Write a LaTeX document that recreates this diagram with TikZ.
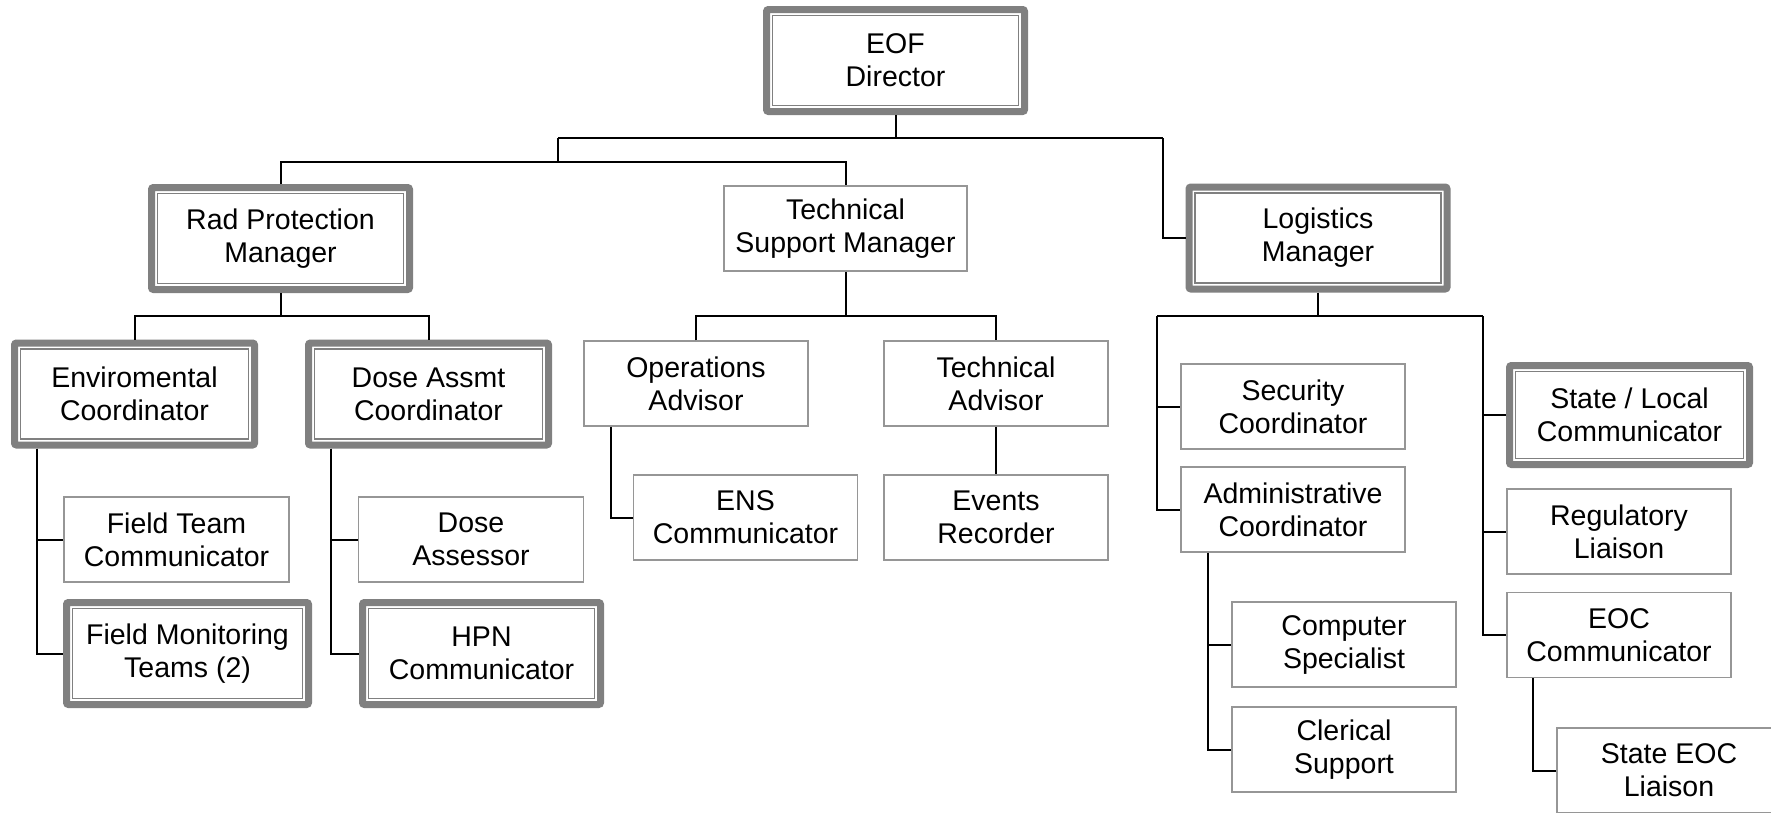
\documentclass[tikz,border=0pt]{standalone}
\usepackage{fontspec}
\setmainfont{Liberation Sans}
\definecolor{thickgray}{RGB}{128,128,128}
\definecolor{thingray}{RGB}{150,150,150}
\tikzset{
  every node/.style={font=\fontsize{28.5}{33}\selectfont, align=center, inner sep=0pt},
  bigbox/.style={draw=thickgray, line width=7pt, rounded corners=2pt, fill=white,
    minimum width=#1, minimum height=102pt,
    path picture={\draw[draw=thickgray, line width=1.5pt, sharp corners]
      ([shift={(6pt,-6pt)}]path picture bounding box.north west) rectangle
      ([shift={(-6pt,6pt)}]path picture bounding box.south east);}},
  smallbox/.style={draw=thingray, line width=1.5pt, fill=white,
    minimum width=#1, minimum height=85pt},
  conn/.style={draw=black, line width=2pt}
}
\begin{document}
\begin{tikzpicture}[x=1pt,y=-1pt]
\path[use as bounding box, clip] (0,0) rectangle (1771,812);
\fill[white] (0,0) rectangle (1771,812);
% nodes
\node[bigbox=258pt] (eof) at (895.5,60.5) {EOF\\Director};
\node[bigbox=258pt] (rad) at (280.5,238.5) {Rad Protection\\Manager};
\node[smallbox=243pt] (tsm) at (845.5,228.5) {Technical\\Support Manager};
\node[bigbox=258pt] (log) at (1318,238) {Logistics\\Manager};
\node[bigbox=240pt] (env) at (134.5,394) {Enviromental\\Coordinator};
\node[bigbox=240pt] (dac) at (428.5,394) {Dose Assmt\\Coordinator};
\node[smallbox=225pt] (ftc) at (176.5,539.5) {Field Team\\Communicator};
\node[bigbox=242pt] (fmt) at (187.5,653.5) {Field Monitoring\\Teams (2)};
\node[smallbox=225pt] (da) at (471,539.5) {Dose\\Assessor};
\node[bigbox=238pt] (hpn) at (481.5,653.5) {HPN\\Communicator};
\node[smallbox=224pt] (oa) at (696,383.5) {Operations\\Advisor};
\node[smallbox=224pt] (ta) at (996,383.5) {Technical\\Advisor};
\node[smallbox=224pt] (ens) at (745.5,517.5) {ENS\\Communicator};
\node[smallbox=224pt] (er) at (996,517.5) {Events\\Recorder};
\node[smallbox=224pt] (sec) at (1293,406.5) {Security\\Coordinator};
\node[smallbox=224pt] (adm) at (1293,509.5) {Administrative\\Coordinator};
\node[smallbox=224pt] (cs) at (1344,644.5) {Computer\\Specialist};
\node[smallbox=224pt] (cls) at (1344,749.5) {Clerical\\Support};
\node[bigbox=240pt, minimum height=99pt] (slc) at (1629.5,415) {State / Local\\Communicator};
\node[smallbox=224pt] (reg) at (1619,531.5) {Regulatory\\Liaison};
\node[smallbox=224pt] (eoc) at (1619,635) {EOC\\Communicator};
\node[smallbox=224pt] (sel) at (1669,770.5) {State EOC\\Liaison};
% coordinates
\coordinate (b1) at (558,138);
\coordinate (b2) at (1163,138);
\coordinate (c1) at (558,161.5);
\coordinate (r1) at (280.5,316);
\coordinate (t1) at (845.5,316);
\coordinate (l1) at (1318,316);
\coordinate (l2) at (1157,316);
\coordinate (l3) at (1483,316);
% connectors
\draw[conn] (eof.south) -- (eof.south |- b1);
\draw[conn] (b1) -- (b2);
\draw[conn] (b1) -- (c1);
\draw[conn] (rad.north) |- (c1) -| (tsm.north);
\draw[conn] (b2) |- (log.west);
\draw[conn] (rad.south) -- (r1);
\draw[conn] (env.north) |- (r1) -| (dac.north);
\draw[conn] ([xshift=25.5pt]env.south west) |- (ftc.west);
\draw[conn] ([xshift=25.5pt]env.south west) |- (fmt.west);
\draw[conn] ([xshift=26pt]dac.south west) |- (da.west);
\draw[conn] ([xshift=26pt]dac.south west) |- (hpn.west);
\draw[conn] (tsm.south) -- (t1);
\draw[conn] (oa.north) |- (t1) -| (ta.north);
\draw[conn] ([xshift=28pt]oa.south west) |- (ens.west);
\draw[conn] (ta.south) -- (er.north);
\draw[conn] (log.south) -- (l1);
\draw[conn] (l2) -- (l3);
\draw[conn] (l2) |- (sec.west);
\draw[conn] (l2) |- (adm.west);
\draw[conn] (l3) |- (slc.west);
\draw[conn] (l3) |- (reg.west);
\draw[conn] (l3) |- (eoc.west);
\draw[conn] ([xshift=28pt]adm.south west) |- (cs.west);
\draw[conn] ([xshift=28pt]adm.south west) |- (cls.west);
\draw[conn] ([xshift=26.5pt]eoc.south west) |- (sel.west);
\end{tikzpicture}
\end{document}
